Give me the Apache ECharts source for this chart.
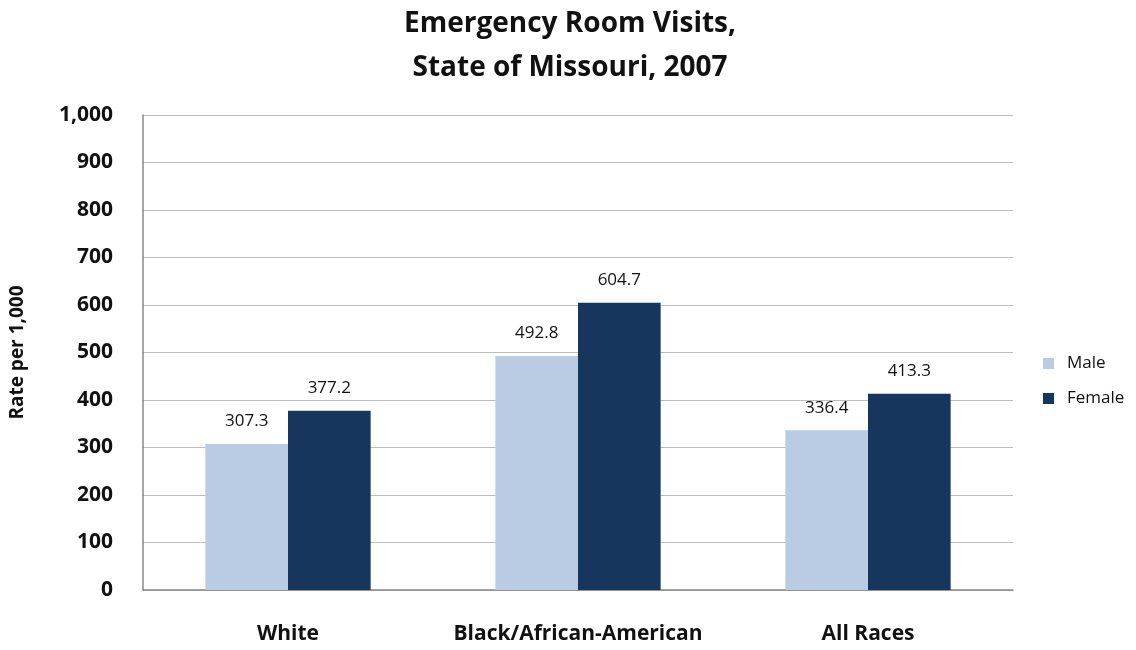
<!DOCTYPE html>
<html><head><meta charset="utf-8">
<script src="https://cdn.jsdelivr.net/npm/echarts@6/dist/echarts.min.js"></script>
<style>html,body{margin:0;padding:0;background:#fff}#c{width:1136px;height:650px}</style>
</head><body><div id="c"></div>
<script>
const categories = ['White', 'Black/African-American', 'All Races'];
const maleValues = [307.3, 492.8, 336.4];
const femaleValues = [377.2, 604.7, 413.3];
const yTicks = [0, 100, 200, 300, 400, 500, 600, 700, 800, 900, 1000];

const FONT = '"Open Sans", "Noto Sans", sans-serif';
const chart = echarts.init(document.getElementById('c'));
chart.setOption({
  backgroundColor: '#fff',
  animation: false,
  textStyle: { fontFamily: FONT },
  title: {
    text: 'Emergency Room Visits,\nState of Missouri, 2007',
    left: 565, top: -3, textAlign: 'center',
    textStyle: { fontFamily: FONT, fontSize: 28, fontWeight: 'bold', color: '#111', lineHeight: 44 }
  },
  legend: {
    orient: 'vertical', left: 1038, top: 350,
    itemWidth: 11, itemHeight: 11, itemGap: 18, icon: 'rect',
    textStyle: { fontFamily: FONT, fontSize: 17, color: '#111', padding: [0, 0, 0, 8] },
    data: ['Male', 'Female']
  },
  grid: { left: 143, right: 123, top: 115, bottom: 60 },
  xAxis: {
    type: 'category', data: categories,
    axisLine: { lineStyle: { color: '#888', width: 1.5 } },
    axisTick: { show: false },
    axisLabel: { interval: 0, fontFamily: FONT, fontSize: 21, fontWeight: 'bold', color: '#111', margin: 34 }
  },
  yAxis: {
    type: 'value', min: yTicks[0], max: yTicks[yTicks.length - 1], interval: 100,
    name: 'Rate per 1,000', nameLocation: 'middle', nameGap: 116, nameRotate: 90,
    nameTextStyle: { fontFamily: FONT, fontSize: 19, fontWeight: 'bold', color: '#111' },
    axisLine: { show: true, lineStyle: { color: '#888', width: 1.5 } },
    axisTick: { show: false },
    splitLine: { lineStyle: { color: '#bdbdbd', width: 1 } },
    axisLabel: {
      fontFamily: FONT, fontSize: 21, fontWeight: 'bold', color: '#111', margin: 30,
      formatter: v => v.toLocaleString('en-US')
    }
  },
  series: [
    {
      name: 'Male', type: 'bar', data: maleValues, barGap: '0%', barCategoryGap: '43%',
      itemStyle: { color: '#b9cce4' },
      label: { show: true, position: 'top', distance: 14, fontFamily: FONT, fontSize: 17, color: '#111', formatter: p => p.value.toFixed(1) }
    },
    {
      name: 'Female', type: 'bar', data: femaleValues,
      itemStyle: { color: '#17365d' },
      label: { show: true, position: 'top', distance: 14, fontFamily: FONT, fontSize: 17, color: '#111', formatter: p => p.value.toFixed(1) }
    }
  ]
});
</script></body></html>
